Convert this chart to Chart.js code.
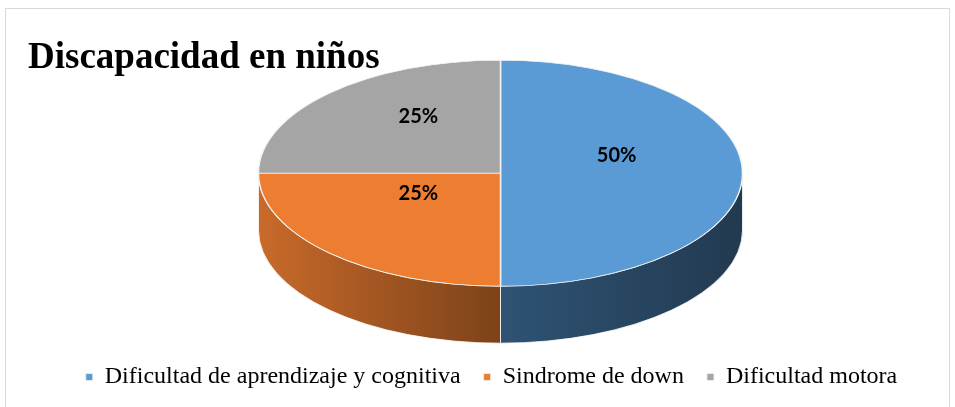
<!DOCTYPE html>
<html>
<head>
<meta charset="utf-8">
<script src="https://cdn.jsdelivr.net/npm/chart.js@4/dist/chart.umd.min.js"></script>
<style>
  html, body { margin: 0; padding: 0; background: #fff; overflow: hidden; }
  #frame { position: absolute; left: 5px; top: 8px; width: 943px; height: 420px; border: 1px solid #d9d9d9; pointer-events: none; }
  canvas { position: absolute; left: 0; top: 0; }
</style>
</head>
<body>
<canvas id="grafico" width="955" height="407"></canvas>
<div id="frame"></div>
<script>
// datos del gráfico
const categorias = ["Dificultad de aprendizaje y cognitiva", "Sindrome de down", "Dificultad motora"];
const valores = [50, 25, 25];
const coloresTapa = ["#5b9bd5", "#ed7d31", "#a5a5a5"];
const paredClara = ["#2f5374", "#c96a2a", "#8a8a8a"];
const paredOscura = ["#223a50", "#7c4219", "#5a5a5a"];

// plugin para dar efecto 3D al pie (elipse + pared frontal)
const pie3d = {
  id: "pie3d",
  beforeDatasetsDraw(chart, args, opts) {
    const meta = chart.getDatasetMeta(0);
    const a0 = meta.data[0];
    const R = a0.outerRadius;
    const cx = a0.x + opts.offsetX;
    const cy = a0.y + opts.offsetY;
    const ctx = chart.ctx;

    meta.data.forEach((arc, i) => {
      [-1, 0, 1].forEach(k => {
        const s = Math.max(arc.startAngle, k * 2 * Math.PI);
        const e = Math.min(arc.endAngle, Math.PI + k * 2 * Math.PI);
        if (e <= s) return;
        const xIzq = cx + opts.rx * Math.cos(e);
        const xDer = cx + opts.rx * Math.cos(s);
        const grad = ctx.createLinearGradient(xIzq, 0, xDer, 0);
        grad.addColorStop(0, paredClara[i]);
        grad.addColorStop(1, paredOscura[i]);
        ctx.save();
        ctx.beginPath();
        ctx.ellipse(cx, cy, opts.rx, opts.ry, 0, s, e);
        ctx.ellipse(cx, cy + opts.depth, opts.rx, opts.ry, 0, e, s, true);
        ctx.closePath();
        ctx.fillStyle = grad;
        ctx.fill();
        ctx.strokeStyle = "rgba(255,255,255,0.8)";
        ctx.lineWidth = 1;
        ctx.stroke();
        ctx.restore();
      });
    });

    ctx.save();
    ctx.translate(cx, cy);
    ctx.scale(opts.rx / R, opts.ry / R);
    ctx.translate(-a0.x, -a0.y);
  },
  afterDatasetsDraw(chart, args, opts) {
    const ctx = chart.ctx;
    ctx.restore();
    const meta = chart.getDatasetMeta(0);
    const a0 = meta.data[0];
    const cx = a0.x + opts.offsetX;
    const cy = a0.y + opts.offsetY;
    const total = valores.reduce((a, b) => a + b, 0);
    ctx.save();
    ctx.font = "bold 20px Lato";
    ctx.fillStyle = "#000";
    ctx.textAlign = "center";
    ctx.textBaseline = "middle";
    meta.data.forEach((arc, i) => {
      const mid = (arc.startAngle + arc.endAngle) / 2;
      const x = cx + opts.rx * opts.labelPos * Math.cos(mid);
      const y = cy + opts.ry * opts.labelPos * Math.sin(mid) + opts.labelLift;
      ctx.fillText(Math.round(valores[i] / total * 100) + "%", x, y);
    });
    ctx.restore();
  }
};

new Chart(document.getElementById("grafico"), {
  type: "pie",
  data: {
    labels: categorias,
    datasets: [{
      data: valores,
      backgroundColor: coloresTapa,
      borderColor: "#f2f2f2",
      borderWidth: 0.8,
      clip: false
    }]
  },
  options: {
    responsive: false,
    devicePixelRatio: 1,
    animation: false,
    layout: {
      padding: { left: 28, right: 0, top: 0, bottom: 8 }
    },
    plugins: {
      title: {
        display: true,
        text: "Discapacidad en niños",
        align: "start",
        color: "#000",
        font: { family: "Liberation Serif", size: 37, weight: "bold" },
        padding: { top: 36, bottom: 0 }
      },
      legend: {
        position: "bottom",
        labels: {
          color: "#000",
          font: { family: "Liberation Serif", size: 24 },
          usePointStyle: true,
          pointStyle: "rect",
          boxWidth: 7,
          boxHeight: 7,
          padding: 23
        }
      },
      tooltip: { enabled: false },
      pie3d: {
        rx: 242,
        ry: 113,
        depth: 57,
        offsetX: 9,
        offsetY: -38,
        labelPos: 0.48,
        labelLift: -18
      }
    }
  },
  plugins: [pie3d]
});
</script>
</body>
</html>
